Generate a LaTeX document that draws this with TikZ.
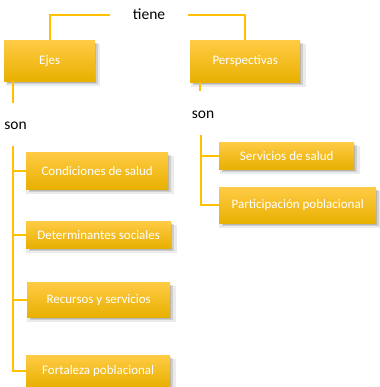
\documentclass[tikz,border=0pt]{standalone}
\usepackage{fontspec}
\setmainfont{Carlito}
\usetikzlibrary{positioning}
\usetikzlibrary{shadows}

\definecolor{goldLine}{HTML}{FFC000}
\definecolor{goldTop}{HTML}{FFCB45}
\definecolor{goldMid}{HTML}{FFC000}
\definecolor{goldBottom}{HTML}{E8B000}

\begin{document}
\begin{tikzpicture}[x=1pt, y=-1pt,
    box/.style={anchor=north west, inner sep=0pt, text=white,
      font=\fontsize{13}{15}\selectfont,
      top color=goldTop, middle color=goldMid, bottom color=goldBottom,
      general shadow={shadow xshift=3pt, shadow yshift=-4pt, fill=black, opacity=0.08, shadow scale=1.04},
      general shadow={shadow xshift=2.5pt, shadow yshift=-3pt, fill=black, opacity=0.12},
      general shadow={shadow xshift=2pt, shadow yshift=-2pt, fill=black, opacity=0.12, shadow scale=0.98}},
    word/.style={inner sep=0pt, font=\fontsize{15.5}{18}\selectfont},
    link/.style={draw=goldLine, line width=1.8pt},
  ]
    \useasboundingbox (0,0) rectangle (379,387);

    \node[word, minimum width=78pt] (tiene) at (149,15) {\raisebox{2.5pt}{tiene}};

    \node[box, minimum width=91pt, minimum height=41pt] (ejes) at (4,40) {Ejes};
    \node[box, minimum width=110pt, minimum height=42pt] (persp) at (190,40) {Perspectivas};

    \node[word] (son_0) at (15.5,126) {son};
    \node[word] (son_1) at (203,115) {son};

    \node[box, minimum width=142pt, minimum height=37pt] (eje_0) at (26,152) {Condiciones de salud};
    \node[box, minimum width=145pt, minimum height=27pt] (eje_1) at (26,221) {Determinantes sociales};
    \node[box, minimum width=143pt, minimum height=35pt] (eje_2) at (27,282) {Recursos y servicios};
    \node[box, minimum width=144pt, minimum height=32pt] (eje_3) at (26,355) {Fortaleza poblacional};

    \node[box, minimum width=135pt, minimum height=27pt] (persp_0) at (219,142) {Servicios de salud};
    \node[box, minimum width=157pt, minimum height=36pt] (persp_1) at (219,187) {Participación poblacional};

    \coordinate (ejesStub) at (13,103);
    \coordinate (perspStub) at (200,91);
    \coordinate (tree_0) at (13,146);
    \coordinate (tree_1) at (201,135);

    % tiene
    \draw[link] (tiene.west) -| (ejes.north);
    \draw[link] (tiene.east) -| (persp.north);

    % son
    \draw[link] (ejesStub |- ejes.south) -- (ejesStub);
    \draw[link] (perspStub |- persp.south) -- (perspStub);

    % ejes
    \draw[link] (tree_0) |- (eje_3.west);
    \draw[link] (eje_0.west) -- (eje_0.west -| tree_0);
    \draw[link] (eje_1.west) -- (eje_1.west -| tree_0);
    \draw[link] (eje_2.west) -- (eje_2.west -| tree_0);

    % perspectivas
    \draw[link] (tree_1) |- (persp_1.west);
    \draw[link] (persp_0.west) -- (persp_0.west -| tree_1);
  \end{tikzpicture}
\end{document}
